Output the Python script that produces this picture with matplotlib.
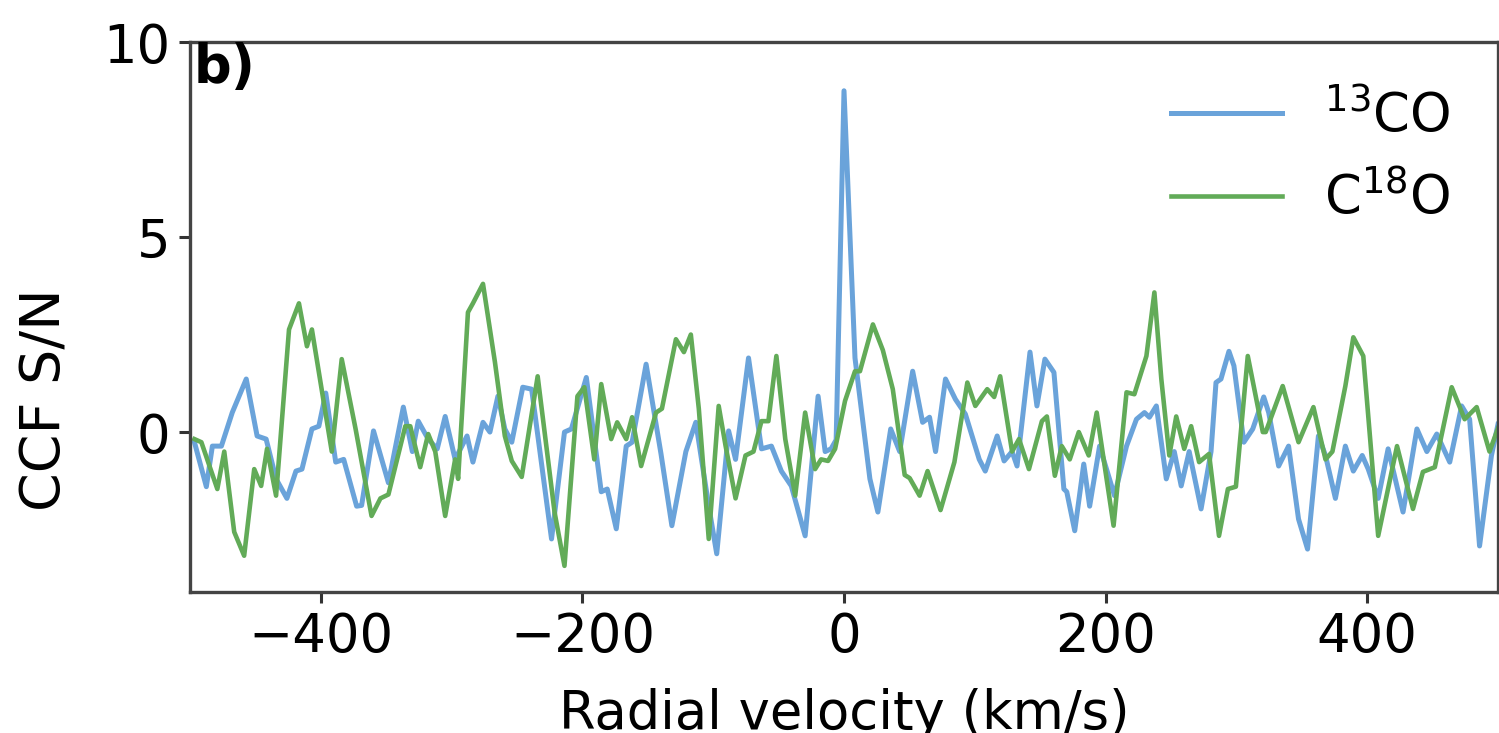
import matplotlib
matplotlib.use("Agg")
import matplotlib.pyplot as plt

# ---- data ----
v_13co = [-496.6, -487.5, -482.9, -476.0, -467.7, -457.0, -448.7, -441.8, -434.2, -425.9,
          -419.0, -414.4, -406.8, -401.5, -396.2, -388.6, -382.5, -372.6, -368.8, -359.7,
          -348.3, -336.9, -330.0, -325.5, -317.9, -311.0, -304.9, -297.3, -288.2, -283.7,
          -276.0, -270.7, -264.6, -259.3, -254.0, -245.6, -238.8, -223.6, -213.7, -208.4,
          -197.0, -185.6, -181.0, -174.1, -166.5, -162.0, -151.3, -139.9, -131.6, -120.9,
          -113.3, -103.4, -97.3, -88.2, -82.9, -73.0, -63.1, -55.5, -47.9, -40.3,
          -29.7, -19.8, -14.4, -9.9, -6.0, 0.0, 8.4, 19.8, 25.9, 35.7,
          42.6, 52.5, 60.1, 65.4, 70.0, 77.6, 85.2, 92.8, 103.4, 108.0,
          117.1, 122.4, 128.5, 132.3, 142.2, 147.5, 153.6, 160.5, 168.1, 170.3,
          176.4, 183.3, 187.8, 195.4, 206.8, 216.0, 223.6, 229.7, 233.5, 238.8,
          246.4, 252.5, 257.8, 263.9, 273.0, 280.6, 284.4, 288.2, 294.3, 298.1,
          305.7, 312.5, 320.9, 324.7, 332.3, 339.9, 347.5, 354.4, 362.7, 368.1,
          375.7, 383.3, 389.4, 396.2, 400.8, 408.4, 416.0, 427.4, 438.0, 445.6,
          453.2, 463.1, 472.2, 478.3, 485.9, 495.0, 500.0]
sn_13co = [-0.26, -1.40, -0.36, -0.36, 0.50, 1.36, -0.10, -0.18, -1.20, -1.70,
           -1.00, -0.95, 0.08, 0.15, 1.00, -0.77, -0.70, -1.90, -1.88, 0.03,
           -1.30, 0.64, -0.50, 0.28, -0.18, -0.43, 0.40, -0.70, -0.10, -0.77,
           0.25, 0.00, 0.92, 0.08, -0.26, 1.15, 1.10, -2.74, 0.00, 0.08,
           1.40, -1.53, -1.46, -2.48, -0.36, -0.26, 1.74, -0.56, -2.40, -0.50,
           0.25, -1.90, -3.12, 0.03, -0.70, 1.90, -0.43, -0.36, -1.00, -1.38,
           -2.66, 0.92, -0.50, -0.43, -0.20, 8.75, 1.90, -1.20, -2.05, 0.08,
           -0.50, 1.56, 0.25, 0.38, -0.50, 1.36, 0.84, 0.46, -0.70, -1.00,
           -0.10, -0.74, -0.50, -0.87, 2.05, 0.67, 1.87, 1.53, -1.46, -1.53,
           -2.53, -0.82, -1.90, -0.36, -1.63, -0.36, 0.33, 0.50, 0.38, 0.67,
           -1.20, -0.50, -1.38, -0.50, -1.97, -0.50, 1.27, 1.36, 2.07, 1.70,
           -0.26, 0.08, 0.90, 0.50, -0.87, -0.36, -2.23, -3.00, -0.10, -0.60,
           -1.70, -0.36, -1.00, -0.60, -0.95, -1.70, -0.43, -2.05, 0.08, -0.50,
           -0.05, -0.77, 0.67, 0.33, -2.92, -0.60, 0.20]

v_c18o = [-496.6, -491.3, -479.1, -473.8, -466.2, -458.6, -450.9, -445.6, -441.1, -434.2,
          -424.3, -416.7, -410.6, -406.8, -391.6, -384.0, -373.4, -361.2, -354.4, -348.3,
          -335.4, -331.6, -324.0, -317.9, -312.5, -304.9, -297.3, -295.0, -287.5, -283.7,
          -276.0, -266.9, -259.3, -254.0, -246.4, -234.2, -221.3, -213.7, -203.8, -198.5,
          -190.9, -185.6, -178.0, -173.4, -166.5, -162.0, -155.1, -143.7, -139.2, -128.5,
          -122.4, -117.1, -111.0, -103.4, -95.8, -90.5, -82.9, -75.3, -69.2, -63.1,
          -57.8, -51.7, -44.9, -37.3, -29.7, -22.1, -17.5, -12.2, -6.8, 0.8,
          8.4, 12.2, 22.1, 29.7, 37.3, 46.4, 50.2, 57.8, 63.9, 73.8,
          84.4, 94.3, 100.4, 109.5, 114.8, 119.4, 128.5, 133.8, 141.4, 151.3,
          155.1, 161.2, 166.5, 172.6, 179.5, 187.1, 193.2, 206.1, 216.0, 222.0,
          231.2, 237.3, 242.6, 248.7, 254.0, 260.1, 265.4, 271.5, 279.1, 286.7,
          293.5, 299.6, 308.7, 316.3, 320.2, 322.4, 335.4, 347.5, 358.9, 368.1,
          373.4, 383.3, 389.4, 397.0, 408.4, 422.8, 435.0, 442.6, 451.7, 464.6,
          474.5, 483.7, 493.5, 500.0]
sn_c18o = [-0.18, -0.26, -1.46, -0.50, -2.56, -3.17, -0.95, -1.38, -0.43, -1.63,
           2.63, 3.30, 2.20, 2.63, -0.50, 1.87, 0.08, -2.15, -1.70, -1.60,
           0.15, 0.15, -0.90, -0.05, -0.50, -2.15, -0.70, -1.20, 3.07, 3.30,
           3.80, 1.80, -0.10, -0.74, -1.15, 1.43, -2.05, -3.43, 0.92, 1.15,
           -0.70, 1.23, -0.18, 0.25, -0.18, 0.38, -0.87, 0.50, 0.60, 2.38,
           2.05, 2.50, 0.60, -2.74, 0.67, -0.36, -1.70, -0.60, -0.50, 0.28,
           0.28, 1.95, -0.18, -1.63, 0.50, -0.95, -0.70, -0.74, -0.43, 0.80,
           1.56, 1.56, 2.76, 2.10, 1.10, -1.10, -1.18, -1.63, -1.00, -2.00,
           -0.77, 1.27, 0.67, 1.10, 0.90, 1.43, -0.50, -0.18, -0.95, 0.28,
           0.40, -1.12, -0.36, -0.70, 0.00, -0.60, 0.50, -2.40, 1.02, 0.97,
           1.95, 3.58, 1.36, -0.60, 0.40, -0.43, 0.15, -0.77, -0.56, -2.66,
           -1.46, -1.40, 1.95, 0.67, 0.00, 0.00, 1.18, -0.26, 0.64, -0.70,
           -0.50, 1.18, 2.43, 1.95, -2.66, -0.36, -1.97, -1.02, -0.90, 1.15,
           0.33, 0.64, -0.50, 0.10]

labels = [r"$^{13}$CO", r"C$^{18}$O"]
xticks = [-400, -200, 0, 200, 400]
yticks = [0, 5, 10]

W, H = 1499, 733
fig = plt.figure(figsize=(W / 100, H / 100), dpi=100)
ax = fig.add_axes([190 / W, (H - 592) / H, (1498 - 190) / W, (592 - 42) / H])

ax.plot(v_13co, sn_13co, color="#6aa3da", lw=3.6, label=labels[0])
ax.plot(v_c18o, sn_c18o, color="#62ab58", lw=3.3, label=labels[1])

ax.set_xlim(-500, 500)
ax.set_ylim(-4.1, 10)
ax.set_xticks(xticks)
ax.set_yticks(yticks)

fs = 38
ax.tick_params(axis="both", labelsize=fs, length=8, width=2.2, pad=6, color="#333333")
for sp in ax.spines.values():
    sp.set_linewidth(2.4)
    sp.set_color("#444444")

ax.set_xlabel("Radial velocity (km/s)", fontsize=fs)
ax.xaxis.set_label_coords(0.5, -0.175)
ax.set_ylabel("CCF S/N", fontsize=40)
ax.yaxis.set_label_coords(-0.09, 0.35)

ax.text(0.003, 1.0, "b)", transform=ax.transAxes, fontsize=fs, fontweight="bold",
        va="top", ha="left")

leg = ax.legend(loc="upper right", fontsize=fs, frameon=False,
                bbox_to_anchor=(1.0, 1.0), handlelength=2.1, handletextpad=0.8,
                labelspacing=0.55)

fig.savefig("out.png", dpi=100)
